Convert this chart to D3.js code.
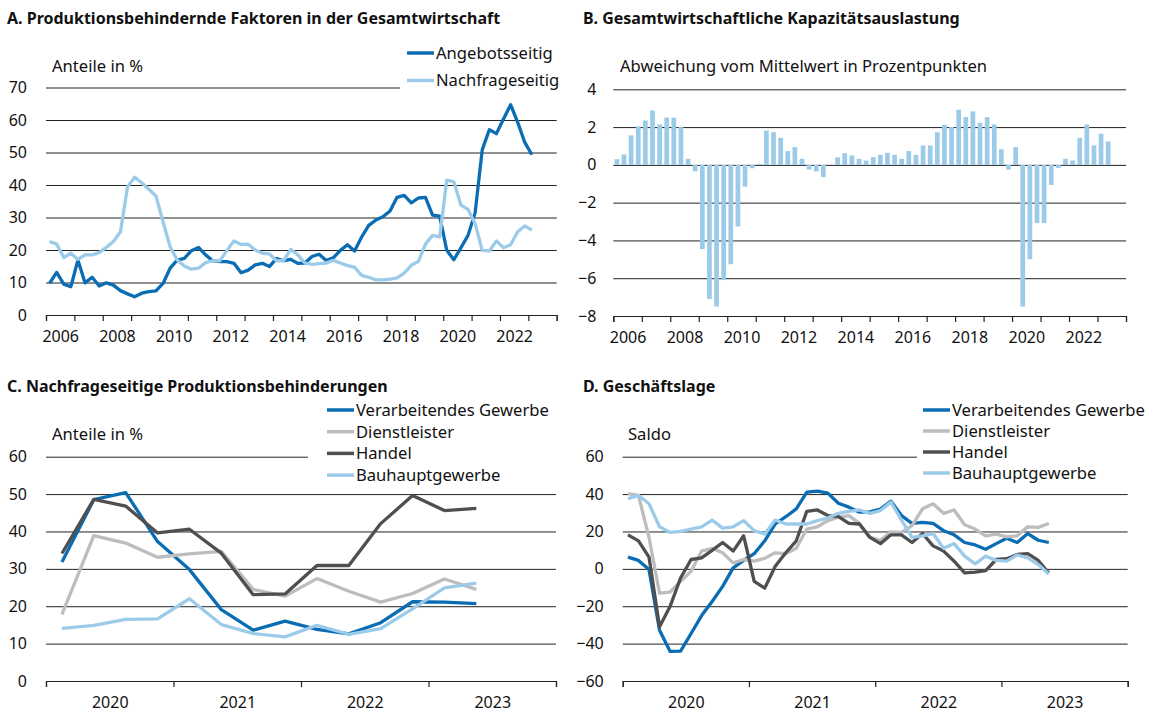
<!DOCTYPE html>
<html>
<head>
<meta charset="utf-8">
<script src="https://cdn.jsdelivr.net/npm/d3@7"></script>
<style>
  body { margin: 0; background: #fff; }
  svg { font-family: "Noto Sans", sans-serif; }
</style>
</head>
<body>
<svg id="chart" width="1159" height="713"></svg>
<script>
// ---- data ----
// A: quarterly shares 2006Q1 - 2023Q1
const angebot = [9.7,13.1,9.5,8.7,16.9,9.9,11.6,8.9,9.9,9.2,7.5,6.5,5.6,6.7,7.2,7.4,9.7,14.4,16.9,17.4,
  19.8,20.8,18.5,16.7,16.4,16.4,15.9,13.0,13.8,15.4,15.9,14.9,17.4,16.7,17.1,15.9,16.0,18.0,18.7,16.8,
  17.6,19.9,21.6,19.7,24.0,27.6,29.2,30.2,32.0,36.2,36.8,34.5,36.0,36.2,30.7,30.4,19.9,17.0,20.7,24.5,
  31.5,50.8,57.0,55.8,60.3,64.7,59.3,53.1,49.3];
const nachfrage = [22.6,21.8,17.7,19.0,17.1,18.5,18.5,19.2,20.8,22.6,25.6,39.5,42.4,40.7,38.7,36.6,28.7,21.0,16.9,15.1,
  14.1,14.4,16.1,16.7,16.7,19.8,22.8,21.7,21.8,20.0,19.0,18.8,16.7,16.7,20.2,18.5,16.0,15.6,15.8,16.0,
  16.8,16.0,15.2,14.7,12.2,11.6,10.8,10.8,11.0,11.4,12.9,15.3,16.5,21.8,24.5,24.0,41.5,41.0,33.8,32.5,
  28.1,19.9,19.7,22.8,20.7,21.6,25.6,27.4,26.1];

// B: quarterly deviation 2006Q1 - 2023Q2
const auslastung = [0.3,0.55,1.56,2.04,2.35,2.88,2.14,2.5,2.5,2.0,
  0.32,-0.34,-4.46,-7.1,-7.5,-6.1,-5.26,-3.26,-1.15,-0.18,
  0.05,1.82,1.73,1.43,0.73,0.94,0.32,-0.25,-0.35,-0.65,
  0.0,0.4,0.62,0.5,0.32,0.23,0.41,0.53,0.64,0.53,
  0.32,0.73,0.53,1.03,1.03,1.73,2.12,2.0,2.92,2.53,
  2.83,2.23,2.53,2.14,0.83,-0.25,0.94,-7.5,-4.99,-3.08,
  -3.08,-1.06,-0.16,0.32,0.23,1.43,2.14,1.03,1.65,1.24];

// C: quarterly 2020Q1 - 2023Q2
const cVerarb = [31.8,48.5,50.4,37.3,29.8,19.1,13.6,16.0,13.8,12.6,15.6,21.2,21.1,20.7];
const cDienst = [17.8,38.9,36.9,33.1,34.0,34.7,24.5,22.7,27.4,24.0,21.1,23.4,27.3,24.5];
const cHandel = [34.1,48.6,46.8,39.6,40.6,34.2,23.1,23.3,30.9,30.9,42.1,49.6,45.6,46.2];
const cBau    = [14.1,14.9,16.5,16.6,22.0,15.1,12.7,11.8,14.9,12.5,14.0,19.3,24.9,26.2];

// D: monthly 2020-01 - 2023-05
const dVerarb = [6.3,4.5,-0.4,-32.8,-44.1,-44.0,-34.6,-25.0,-17.5,-9.4,0.5,4.5,8.1,15.0,24.0,27.9,32.1,41.1,41.6,40.5,
  35.1,33.0,30.3,30.5,32.0,36.2,28.5,24.3,24.9,24.3,20.4,18.2,14.1,12.8,10.5,13.5,16.4,14.1,18.9,15.3,14.1];
const dDienst = [40.2,39.3,16.8,-13.0,-12.4,-6.7,-1.3,9.5,11.0,8.6,3.2,5.0,4.1,5.6,8.6,8.1,11.0,21.3,22.5,25.8,
  27.6,28.5,24.3,16.8,15.3,19.8,19.5,23.1,32.1,34.8,29.7,31.5,23.6,21.3,17.7,18.6,17.1,17.7,22.5,22.2,24.3];
const dHandel = [18.2,15.0,6.3,-31.0,-20.2,-4.9,5.0,5.9,9.9,14.1,9.5,17.7,-6.7,-10.3,1.4,8.6,15.0,30.8,31.5,28.5,
  27.9,24.3,24.0,16.8,13.5,18.2,18.2,14.1,18.9,12.3,9.5,4.1,-2.2,-1.8,-0.9,5.0,5.4,7.7,8.1,4.5,-2.2];
const dBau    = [37.5,39.3,34.8,22.5,19.5,20.0,21.3,22.5,26.1,21.8,22.5,25.8,20.4,18.6,26.1,24.0,24.0,24.0,25.8,27.2,
  29.7,30.8,31.5,29.7,31.2,35.7,26.0,16.8,17.7,18.9,11.0,13.5,6.8,2.7,6.8,4.5,4.1,7.4,5.9,2.3,-2.7];

const yearsA = d3.range(2006, 2025);
const labelsA = d3.range(2006, 2023, 2);
const yearsC = d3.range(2020, 2025);
const labelsC = d3.range(2020, 2024);

const col = { blue: "#0a6db4", light: "#9ccbea", gray: "#bdbdbd", dark: "#4f4f4f" };

const svg = d3.select("svg#chart");

// ---- helpers ----
function title(x, y, t) {
  svg.append("text").attr("x", x).attr("y", y)
    .attr("font-weight", "bold").attr("font-size", 16).attr("fill", "#111").text(t);
}
function note(x, y, t) {
  svg.append("text").attr("x", x).attr("y", y)
    .attr("font-size", 16.6).attr("fill", "#111").text(t);
}

function yGrid(y, ticks, x0, x1, pad) {
  const g = svg.append("g").attr("transform", translate(x0, 0))
    .call(d3.axisLeft(y).tickValues(ticks).tickSize(-(x1 - x0)).tickPadding(pad));
  g.select(".domain").remove();
  g.selectAll("line").attr("stroke", "#222").attr("stroke-width", 1);
  g.selectAll("text").attr("font-size", 16).attr("fill", "#111").attr("font-family", "Noto Sans");
  return g;
}

function xAxis(x, yPos, ticks, labels, labelOffset) {
  const g = svg.append("g").attr("transform", translate(0, yPos))
    .call(d3.axisBottom(x).tickValues(ticks).tickSize(6).tickFormat(""));
  g.selectAll("line, path").attr("stroke", "#222").attr("stroke-width", 1.2);
  const l = svg.append("g").attr("transform", translate(0, yPos))
    .call(d3.axisBottom(x).tickValues(labels.map(d => d + labelOffset)).tickSize(0)
      .tickPadding(16).tickFormat(d => Math.floor(d)));
  l.select(".domain").remove();
  l.selectAll("text").attr("font-size", 16).attr("fill", "#111").attr("font-family", "Noto Sans");
}

function drawLine(values, x, y, tOf, color) {
  const line = d3.line().x((d, i) => x(tOf(i))).y(d => y(d));
  svg.append("path").datum(values).attr("d", line)
    .attr("fill", "none").attr("stroke", color).attr("stroke-width", 3.3)
    .attr("stroke-linejoin", "round").attr("stroke-linecap", "butt");
}

function legend(x, y, w, h, items, lx, ty, step) {
  svg.append("rect").attr("x", x).attr("y", y).attr("width", w).attr("height", h).attr("fill", "#fff");
  items.forEach(function(it, i) {
    const yy = ty + i * step;
    svg.append("line").attr("x1", lx).attr("x2", lx + 27).attr("y1", yy).attr("y2", yy)
      .attr("stroke", it.color).attr("stroke-width", 3.5);
    svg.append("text").attr("x", lx + 29).attr("y", yy).attr("dy", "0.35em")
      .attr("font-size", 16.6).attr("fill", "#111").text(it.name);
  });
}

function translate(x, y) {
  return "translate(" + String(x) + "," + String(y) + ")";
}

// ---- A ----
title(7, 24, "A. Produktionsbehindernde Faktoren in der Gesamtwirtschaft");
const xA = d3.scaleLinear().domain([2006, 2024]).range([46, 556.7]);
const yA = d3.scaleLinear().domain([0, 70]).range([315, 87.5]);
yGrid(yA, d3.range(0, 71, 10), 46, 556.7, 19);
xAxis(xA, 315, yearsA, labelsA, 0.5);
note(52, 72, "Anteile in %");
drawLine(angebot, xA, yA, i => 2006 + (i + 0.5) / 4, col.blue);
drawLine(nachfrage, xA, yA, i => 2006 + (i + 0.5) / 4, col.light);
legend(400, 38, 170, 54, [
  { name: "Angebotsseitig", color: col.blue },
  { name: "Nachfrageseitig", color: col.light }
], 407, 53, 27.5);

// ---- B ----
title(583, 24, "B. Gesamtwirtschaftliche Kapazitätsauslastung");
const xB = d3.scaleLinear().domain([2006, 2024]).range([613.3, 1126]);
const yB = d3.scaleLinear().domain([-8, 4]).range([316, 89.3]);
yGrid(yB, d3.range(-8, 5, 2), 613.3, 1126, 17);
note(620, 72, "Abweichung vom Mittelwert in Prozentpunkten");
const qW = xB(2006.25) - xB(2006);
svg.append("g").selectAll("rect").data(auslastung).enter().append("rect")
  .attr("x", (d, i) => xB(2006 + i / 4) + qW * 0.17)
  .attr("width", qW * 0.66)
  .attr("y", d => yB(Math.max(0, d)))
  .attr("height", d => Math.abs(yB(d) - yB(0)))
  .attr("fill", col.light);
xAxis(xB, 316, yearsA, labelsA, 0.5);

// ---- C ----
title(7, 392, "C. Nachfrageseitige Produktionsbehinderungen");
const xC = d3.scaleLinear().domain([2020, 2024]).range([46, 556]);
const yC = d3.scaleLinear().domain([0, 60]).range([681, 456.7]);
yGrid(yC, d3.range(0, 61, 10), 46, 556, 19);
xAxis(xC, 681, yearsC, labelsC, 0.5);
note(52, 440, "Anteile in %");
const tq = i => 2020 + (i + 0.5) / 4;
drawLine(cVerarb, xC, yC, tq, col.blue);
drawLine(cDienst, xC, yC, tq, col.gray);
drawLine(cHandel, xC, yC, tq, col.dark);
drawLine(cBau, xC, yC, tq, col.light);
const legItems = [
  { name: "Verarbeitendes Gewerbe", color: col.blue },
  { name: "Dienstleister", color: col.gray },
  { name: "Handel", color: col.dark },
  { name: "Bauhauptgewerbe", color: col.light }
];
legend(308, 398, 250, 88, legItems, 327, 410, 21.7);

// ---- D ----
title(583, 392, "D. Geschäftslage");
const xD = d3.scaleLinear().domain([2020, 2024]).range([622.7, 1127.7]);
const yD = d3.scaleLinear().domain([-60, 60]).range([681, 456.7]);
yGrid(yD, d3.range(-60, 61, 20), 622.7, 1127.7, 19);
xAxis(xD, 681, yearsC, labelsC, 0.5);
note(628, 440, "Saldo");
const tm = i => 2020 + (i + 0.5) / 12;
drawLine(dVerarb, xD, yD, tm, col.blue);
drawLine(dDienst, xD, yD, tm, col.gray);
drawLine(dHandel, xD, yD, tm, col.dark);
drawLine(dBau, xD, yD, tm, col.light);
legend(917, 398, 240, 88, legItems, 923, 410, 21);
</script>
</body>
</html>
